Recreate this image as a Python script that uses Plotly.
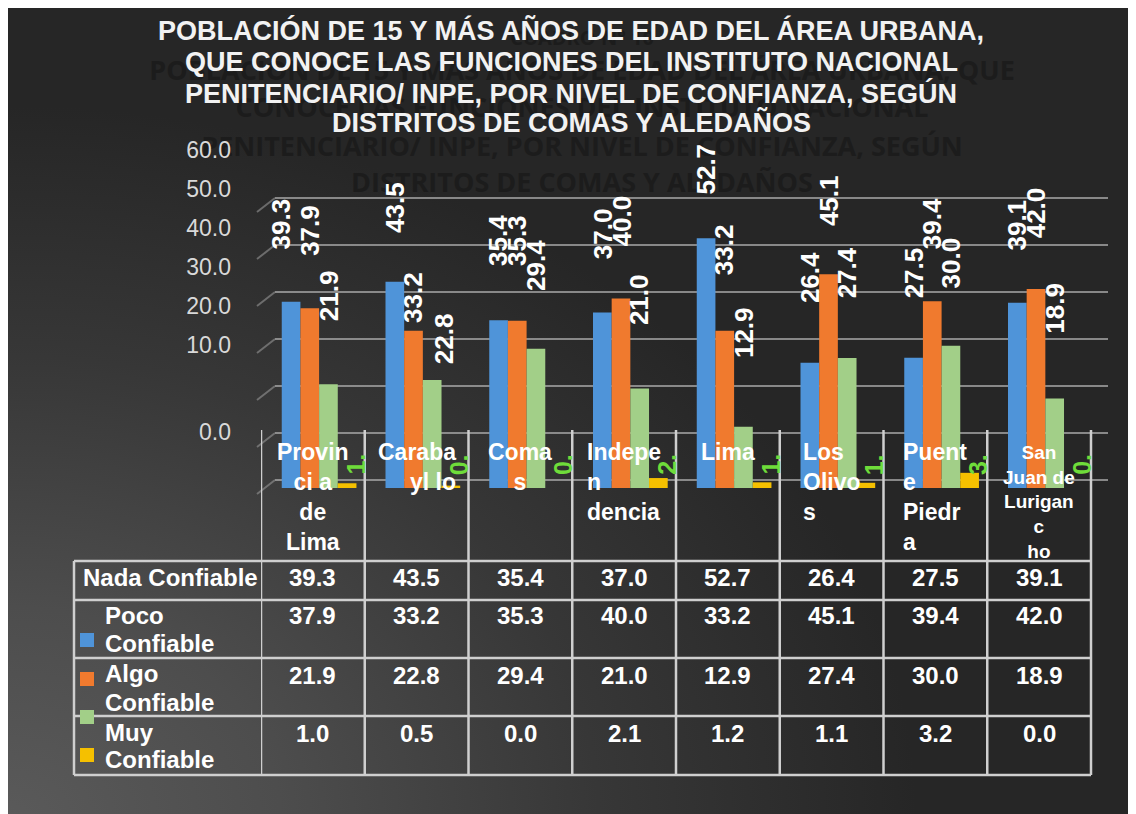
import plotly.graph_objects as go

# ---------------- data ----------------
categories = ["Provincia de Lima", "Carabayllo", "Comas", "Independencia",
              "Lima", "Los Olivos", "Puente Piedra", "San Juan de Lurigancho"]
category_labels = ["Provin<br>ci a<br>de<br>Lima", "Caraba<br>yl lo", "Coma<br>s",
                   "Indepe<br>n<br>dencia", "Lima", "Los<br>Olivo<br>s",
                   "Puent<br>e<br>Piedr<br>a", "San<br>Juan de<br>Lurigan<br>c<br>ho"]
series_names = ["Nada Confiable", "Poco Confiable", "Algo Confiable", "Muy Confiable"]
row_label_lines = [["Nada Confiable"], ["Poco", "Confiable"],
                   ["Algo", "Confiable"], ["Muy", "Confiable"]]
nada = [39.3, 43.5, 35.4, 37.0, 52.7, 26.4, 27.5, 39.1]
poco = [37.9, 33.2, 35.3, 40.0, 33.2, 45.1, 39.4, 42.0]
algo = [21.9, 22.8, 29.4, 21.0, 12.9, 27.4, 30.0, 18.9]
muy = [1.0, 0.5, 0.0, 2.1, 1.2, 1.1, 3.2, 0.0]
series_values = [nada, poco, algo, muy]
y_ticks = [0, 10, 20, 30, 40, 50, 60]
y_ticktext = [f"{v:.1f}" for v in y_ticks]
title_lines = ["POBLACIÓN DE 15 Y MÁS AÑOS DE EDAD DEL ÁREA URBANA,",
               "QUE CONOCE LAS FUNCIONES DEL INSTITUTO NACIONAL",
               "PENITENCIARIO/ INPE, POR NIVEL DE CONFIANZA, SEGÚN",
               "DISTRITOS DE COMAS Y ALEDAÑOS"]
ghost_lines = ["CUADRO N° 10",
               "POBLACIÓN DE 15 Y MÁS AÑOS DE EDAD DEL ÁREA URBANA, QUE",
               "CONOCE LAS FUNCIONES DEL INSTITUTO NACIONAL",
               "PENITENCIARIO/ INPE, POR NIVEL DE CONFIANZA, SEGÚN",
               "DISTRITOS DE COMAS Y ALEDAÑOS"]

# ---------------- style / geometry ----------------
W, H = 1136, 814
PAGE = 8  # page margin around the figure in the browser
colors = ["#4f94d9", "#f07a2e", "#a2cf88", "#f5c000"]
label_green = "#6fdc3a"
FONT = "Liberation Sans, Arial, sans-serif"


def fx(p):
    return (p - PAGE) / W


def fy(p):
    return 1 - (p - PAGE) / H


def y_range(zero_px, px_per_unit):
    z = zero_px - PAGE
    return [(z - H) / px_per_unit, z / px_per_unit]


col_left, col_w, plot_right = 261, 103.75, 1108
x_range = [-0.5, -0.5 + (plot_right - col_left) / col_w]
bar_w = 0.18
offsets = [-0.30, -0.12, 0.06, 0.24]
grid_zero_px, grid_ppu = 480, 4.7
grid_left = 275

fig = go.Figure()

# dark background + radial light at bottom-left
fig.add_trace(go.Scatter(
    x=[0, 1, 1, 0, 0], y=[0, 0, 1, 1, 0], fill="toself", mode="none",
    fillcolor="#262626", hoverinfo="skip", showlegend=False, xaxis="x", yaxis="y"))
fig.add_trace(go.Scatter(
    x=[-0.8, 0.8, 0.8, -0.8, -0.8], y=[-0.88, -0.88, 0.88, 0.88, -0.88],
    fill="toself", mode="none", hoverinfo="skip", showlegend=False,
    fillgradient=dict(type="radial",
                      colorscale=[[0, "#5a5a5a"], [0.3, "#4d4d4d"],
                                  [0.65, "#373737"], [1, "#262626"]]),
    xaxis="x", yaxis="y"))
# ghost (shadow) title behind everything
ghost_y = [40, 73, 110, 149, 185]
fig.add_trace(go.Scatter(
    x=[fx(582)] * len(ghost_lines), y=[fy(v) for v in ghost_y], text=ghost_lines,
    mode="text", textposition="middle center", hoverinfo="skip", showlegend=False,
    textfont=dict(family="Open Sans, sans-serif", size=[20] + [27] * 4,
                  color="#1c1c1c", weight="bold"),
    xaxis="x", yaxis="y"))

for i, vals in enumerate(series_values):
    fig.add_trace(go.Bar(
        x=categories, y=vals, name=series_names[i], width=bar_w, offset=offsets[i],
        marker=dict(color=colors[i], line=dict(width=0)),
        xaxis="x2", yaxis="y2", showlegend=False, hoverinfo="skip"))

# invisible anchors so the helper axes get drawn
for ax in ["y3", "y4", "y5"]:
    fig.add_trace(go.Scatter(x=[categories[0]], y=[0], mode="markers",
                             marker=dict(opacity=0), xaxis="x2", yaxis=ax,
                             showlegend=False, hoverinfo="skip"))

annotations = []
# title
title_y = [31, 62, 93, 122]
for t, yy in zip(title_lines, title_y):
    annotations.append(dict(text=t, xref="paper", yref="paper", x=fx(571), y=fy(yy),
                            showarrow=False, xanchor="center", yanchor="middle",
                            font=dict(family=FONT, size=27, color="#f2f2f2", weight="bold")))

# data labels (rotated)
nudges = {(0, 0): (-10, 0), (1, 1): (0, -48), (2, 1): (12, -47)}
for i in range(3):
    for j, v in enumerate(series_values[i]):
        dx, dy = nudges.get((i, j), (0, 0))
        annotations.append(dict(text=f"{v:.1f}", xref="x2", yref="y5",
                                x=j + offsets[i] + bar_w / 2, y=v, xshift=dx, yshift=dy,
                                textangle=-90, showarrow=False,
                                xanchor="center", yanchor="bottom",
                                font=dict(family=FONT, size=26, color="white", weight="bold")))
for j, v in enumerate(muy):
    annotations.append(dict(text=f"{v:.1f}"[:2], xref="x2", yref="paper",
                            x=j + offsets[3] + bar_w / 2, y=fy(477), xshift=8,
                            textangle=-90, showarrow=False,
                            xanchor="center", yanchor="bottom",
                            font=dict(family=FONT, size=25, color=label_green, weight="bold")))

# category header labels
aligns = ["center", "right", "center", "left", "center", "left", "left", "center"]
for j, lab in enumerate(category_labels):
    small = j == 7
    annotations.append(dict(text=lab, xref="x2", yref="paper", x=j, y=fy(437 if not small else 440),
                            showarrow=False, xanchor="center", yanchor="top", align=aligns[j],
                            font=dict(family=FONT, size=19 if small else 23, color="white",
                                      weight="bold")))

# table
row_lines = [561, 600, 658, 716, 775]
value_y = [577, 615, 675, 733]
label_line_y = [[577], [615, 643], [673, 702], [732, 759]]
label_x = [81, 103, 103, 103]
for r, vals in enumerate(series_values):
    for j, v in enumerate(vals):
        annotations.append(dict(text=f"{v:.1f}", xref="x2", yref="paper", x=j, y=fy(value_y[r]),
                                showarrow=False, xanchor="center", yanchor="middle",
                                font=dict(family=FONT, size=24, color="white", weight="bold")))
    for t, yy in zip(row_label_lines[r], label_line_y[r]):
        annotations.append(dict(text=t, xref="paper", yref="paper", x=fx(label_x[r]), y=fy(yy),
                                showarrow=False, xanchor="left", yanchor="middle",
                                font=dict(family=FONT, size=24, color="white", weight="bold")))

shapes = []
# back-wall gridlines and the short side-wall strokes
grid_style = dict(color="rgba(170,170,170,0.75)", width=2)
for v in y_ticks:
    shapes.append(dict(type="line", xref="x2", yref="y3", layer="below",
                       x0=-0.5 + (grid_left - col_left) / col_w, x1=x_range[1], y0=v, y1=v,
                       line=grid_style))
    shapes.append(dict(type="line", xref="paper", yref="y3",
                       x0=fx(257), x1=fx(grid_left), y0=v - 14 / grid_ppu, y1=v,
                       line=dict(color="rgba(150,150,150,0.6)", width=2)))

line_style = dict(color="#cfcfcf", width=2.5)
table_left = 74
table_right = col_left + len(categories) * col_w
for k in range(len(categories) + 1):
    shapes.append(dict(type="line", xref="x2", yref="paper", x0=k - 0.5, x1=k - 0.5,
                       y0=fy(430), y1=fy(775), line=line_style))
shapes.append(dict(type="line", xref="paper", yref="paper", x0=fx(table_left), x1=fx(table_left),
                   y0=fy(561), y1=fy(775), line=line_style))
for yy in row_lines:
    shapes.append(dict(type="line", xref="paper", yref="paper", x0=fx(table_left),
                       x1=fx(table_right), y0=fy(yy), y1=fy(yy), line=line_style))
# legend keys inside the table
key_y = [640, 679, 717, 755]
for i, yy in enumerate(key_y):
    shapes.append(dict(type="rect", xref="paper", yref="paper", x0=fx(80), x1=fx(94),
                       y0=fy(yy + 7), y1=fy(yy - 7), fillcolor=colors[i], line=dict(width=0)))

fig.update_layout(
    width=W, height=H, margin=dict(l=0, r=0, t=0, b=0),
    paper_bgcolor="#262626", plot_bgcolor="rgba(0,0,0,0)",
    barmode="overlay", showlegend=False,
    xaxis=dict(domain=[0, 1], range=[0, 1], visible=False, fixedrange=True),
    yaxis=dict(domain=[0, 1], range=[0, 1], visible=False, fixedrange=True),
    xaxis2=dict(domain=[fx(col_left), fx(plot_right)], range=x_range, visible=False,
                anchor="y2", type="category", categoryorder="array", categoryarray=categories),
    yaxis2=dict(domain=[0, 1], range=y_range(488, 4.74), visible=False, anchor="x2"),
    yaxis3=dict(overlaying="y2", anchor="x2", range=y_range(grid_zero_px, grid_ppu),
                showgrid=False, showticklabels=False, zeroline=False, showline=False, ticks=""),
    yaxis4=dict(overlaying="y2", anchor="free", position=fx(231), side="left",
                range=y_range(384, 3.9),
                tickvals=[v if v > 0 else -48 / 3.9 for v in y_ticks], ticktext=y_ticktext,
                showgrid=False, zeroline=False, showline=False, ticks="",
                tickfont=dict(family=FONT, size=23, color="#d9d9d9")),
    yaxis5=dict(overlaying="y2", anchor="x2", range=y_range(413, 4.1), visible=False),
    annotations=annotations, shapes=shapes,
)

fig.write_html("out.html")
